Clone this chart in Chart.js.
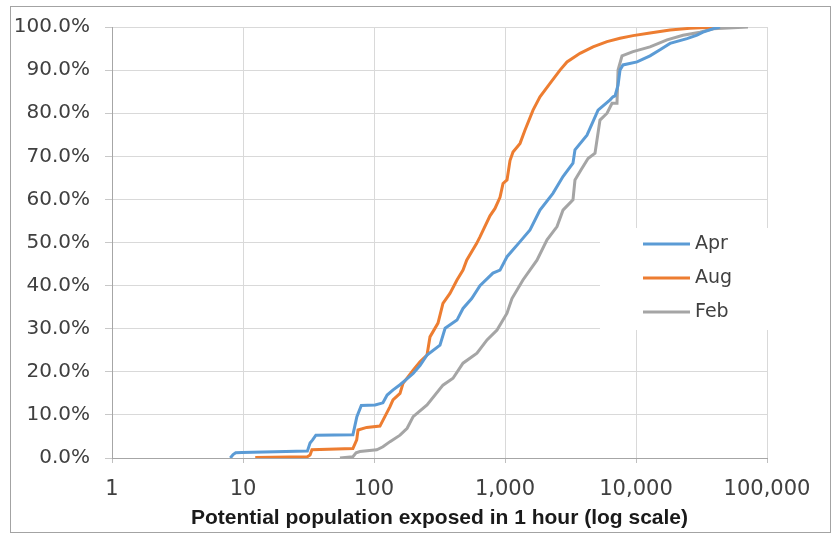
<!DOCTYPE html>
<html>
<head>
<meta charset="utf-8">
<script src="https://cdn.jsdelivr.net/npm/chart.js@4.4.1/dist/chart.umd.min.js"></script>
<style>
  html, body { margin: 0; padding: 0; background: #fff; }
</style>
</head>
<body>
<canvas id="graph" width="836" height="534"></canvas>
<script>
// potential population exposed (x) vs cumulative share of events in % (y)
const aprPop = [8, 8.4, 8.8, 9.8, 31, 32.5, 34, 36, 69, 71.5, 74, 80, 102, 117, 126, 140, 158, 173, 199, 225,
  254, 319, 349, 430, 478, 557, 644, 809, 916, 1036, 1303, 1552, 1849, 2323, 2771, 3303, 3421, 4224, 4454, 5133,
  6339, 6675, 6918, 7295, 7551, 7960, 10190, 12790, 15250, 18190, 24500, 29220, 32460, 38700, 43800];
const aprPct = [0, 0.8, 1.2, 1.3, 1.6, 3.5, 4.2, 5.3, 5.4, 7.5, 9.6, 12.2, 12.3, 12.8, 14.6, 15.8, 17, 18, 19.6, 21.5,
  23.9, 26.2, 30.1, 32, 34.7, 37, 40, 42.9, 43.6, 46.7, 50.2, 52.9, 57.5, 61.4, 65.3, 68.4, 71.5, 74.9, 76.5, 80.7,
  83.1, 83.8, 84, 86.5, 90, 91.2, 91.9, 93.3, 94.7, 96.2, 97.3, 98.1, 98.8, 99.6, 100];

const augPop = [12.4, 31, 32.5, 33.6, 69, 73.8, 75.5, 88, 111, 121, 132.5, 139.6, 158, 166.5, 199, 224.5,
  254, 267.5, 308, 336, 380, 430, 478, 510, 608, 644, 768, 839, 916, 966, 1036, 1092, 1151, 1303, 1422, 1637,
  1849, 2206, 2630, 2973, 3739, 4699, 6011, 7551, 9490, 12790, 18190, 25820, 41500];
const augPct = [0.1, 0.3, 0.7, 1.9, 2.2, 4.2, 6.5, 7.1, 7.4, 9.6, 11.9, 13.5, 15, 17.3, 20.4, 22.3,
  23.9, 28.1, 31.3, 35.9, 38.2, 41.3, 43.6, 45.9, 49.8, 51.3, 56.2, 57.9, 60.5, 63.7, 64.5, 69, 71, 73, 76.1, 80.7,
  83.8, 86.9, 90, 91.9, 93.9, 95.4, 96.6, 97.4, 98, 98.6, 99.3, 99.7, 100];

const febPop = [55, 69, 73, 78, 105, 117, 132.5, 158, 179, 199, 254, 336, 401, 478, 611, 729, 869, 1036, 1130, 1371,
  1754, 2093, 2495, 2771, 3303, 3421, 3800, 4304, 4865, 5036, 5309, 6011, 6561, 7160, 7295, 7820, 9490, 12790,
  17260, 22860, 30800, 38700, 71600];
const febPct = [0, 0.3, 1.2, 1.5, 1.9, 2.6, 3.8, 5.3, 6.9, 9.6, 12.3, 16.9, 18.5, 22, 24.3, 27.4, 29.7, 33.6, 37, 41.3,
  45.9, 50.6, 53.7, 57.5, 59.9, 64.5, 66.8, 69.5, 70.7, 73.8, 78.4, 80, 82.3, 82.3, 90, 93.3, 94.3, 95.4,
  97, 98.1, 98.8, 99.6, 100];

const seriesNames = ["Apr", "Aug", "Feb"];
const xTicks = [1, 10, 100, 1000, 10000, 100000];
const yTicks = [0, 10, 20, 30, 40, 50, 60, 70, 80, 90, 100];
const xTitle = "Potential population exposed in 1 hour (log scale)";

const labelFont = "DejaVu Sans";
const textColor = "#404040";

function toPoints(xs, ys) {
  return xs.map((x, i) => ({ x: x, y: ys[i] }));
}

// white frame around the picture
const frame = {
  id: "frame",
  beforeDraw(chart) {
    const ctx = chart.ctx;
    ctx.save();
    ctx.fillStyle = "#fff";
    ctx.fillRect(0, 0, chart.width, chart.height);
    ctx.strokeStyle = "#a3a3a3";
    ctx.lineWidth = 1;
    ctx.strokeRect(10.5, 6.5, 820, 526);
    ctx.restore();
  }
};

// legend sitting inside the plot, on a white patch
const insideLegend = {
  id: "insideLegend",
  afterDatasetsDraw(chart) {
    const ctx = chart.ctx;
    const area = chart.chartArea;
    ctx.save();
    ctx.fillStyle = "#fff";
    ctx.fillRect(600, 228, area.right + 2 - 600, 102);
    ctx.font = "19px '" + labelFont + "'";
    ctx.textBaseline = "middle";
    ctx.textAlign = "left";
    chart.data.datasets.forEach((ds, i) => {
      const y = 244 + i * 34;
      ctx.strokeStyle = ds.borderColor;
      ctx.lineWidth = 3;
      ctx.beginPath();
      ctx.moveTo(643, y);
      ctx.lineTo(690, y);
      ctx.stroke();
      ctx.fillStyle = textColor;
      ctx.fillText(ds.label, 695, y);
    });
    ctx.restore();
  }
};

window.onload = function () {
  const ctx = document.getElementById("graph").getContext("2d");

  const config = {
    type: "line",
    data: {
      datasets: [
        { label: seriesNames[0], data: toPoints(aprPop, aprPct), borderColor: "#5B9BD5", backgroundColor: "#5B9BD5" },
        { label: seriesNames[1], data: toPoints(augPop, augPct), borderColor: "#ED7D31", backgroundColor: "#ED7D31" },
        { label: seriesNames[2], data: toPoints(febPop, febPct), borderColor: "#A5A5A5", backgroundColor: "#A5A5A5" }
      ]
    },
    options: {
      responsive: false,
      animation: false,
      layout: { padding: { left: 0, top: 27, right: 69, bottom: 0 } },
      elements: {
        point: { radius: 0 },
        line: { borderWidth: 3, tension: 0 }
      },
      plugins: {
        legend: { display: false },
        tooltip: { enabled: false }
      },
      scales: {
        x: {
          type: "logarithmic",
          min: 1,
          max: 100000,
          afterBuildTicks(scale) {
            scale.ticks = xTicks.map(v => ({ value: v }));
          },
          afterFit(scale) {
            scale.height = 76;
          },
          ticks: {
            autoSkip: false,
            maxRotation: 0,
            padding: 14,
            color: textColor,
            font: { family: labelFont, size: 21 },
            callback: v => Number(v).toLocaleString("en-US")
          },
          grid: { color: "#d9d9d9", tickLength: 5, tickColor: "#bfbfbf" },
          border: { color: "#a6a6a6" },
          title: {
            display: true,
            text: xTitle,
            color: "#1a1a1a",
            font: { family: "Liberation Sans", size: 21, weight: "bold" },
            padding: { top: 0, bottom: 3 }
          }
        },
        y: {
          min: 0,
          max: 100,
          afterBuildTicks(scale) {
            scale.ticks = yTicks.map(v => ({ value: v }));
          },
          afterFit(scale) {
            scale.width = 112;
          },
          ticks: {
            padding: 15,
            color: textColor,
            font: { family: labelFont, size: 20 },
            callback: v => v.toFixed(1) + "%"
          },
          grid: { color: "#d9d9d9", tickLength: 7, tickColor: "#c8c8c8" },
          border: { color: "#a6a6a6" }
        }
      }
    },
    plugins: [frame, insideLegend]
  };

  new Chart(ctx, config);
};
</script>
</body>
</html>
